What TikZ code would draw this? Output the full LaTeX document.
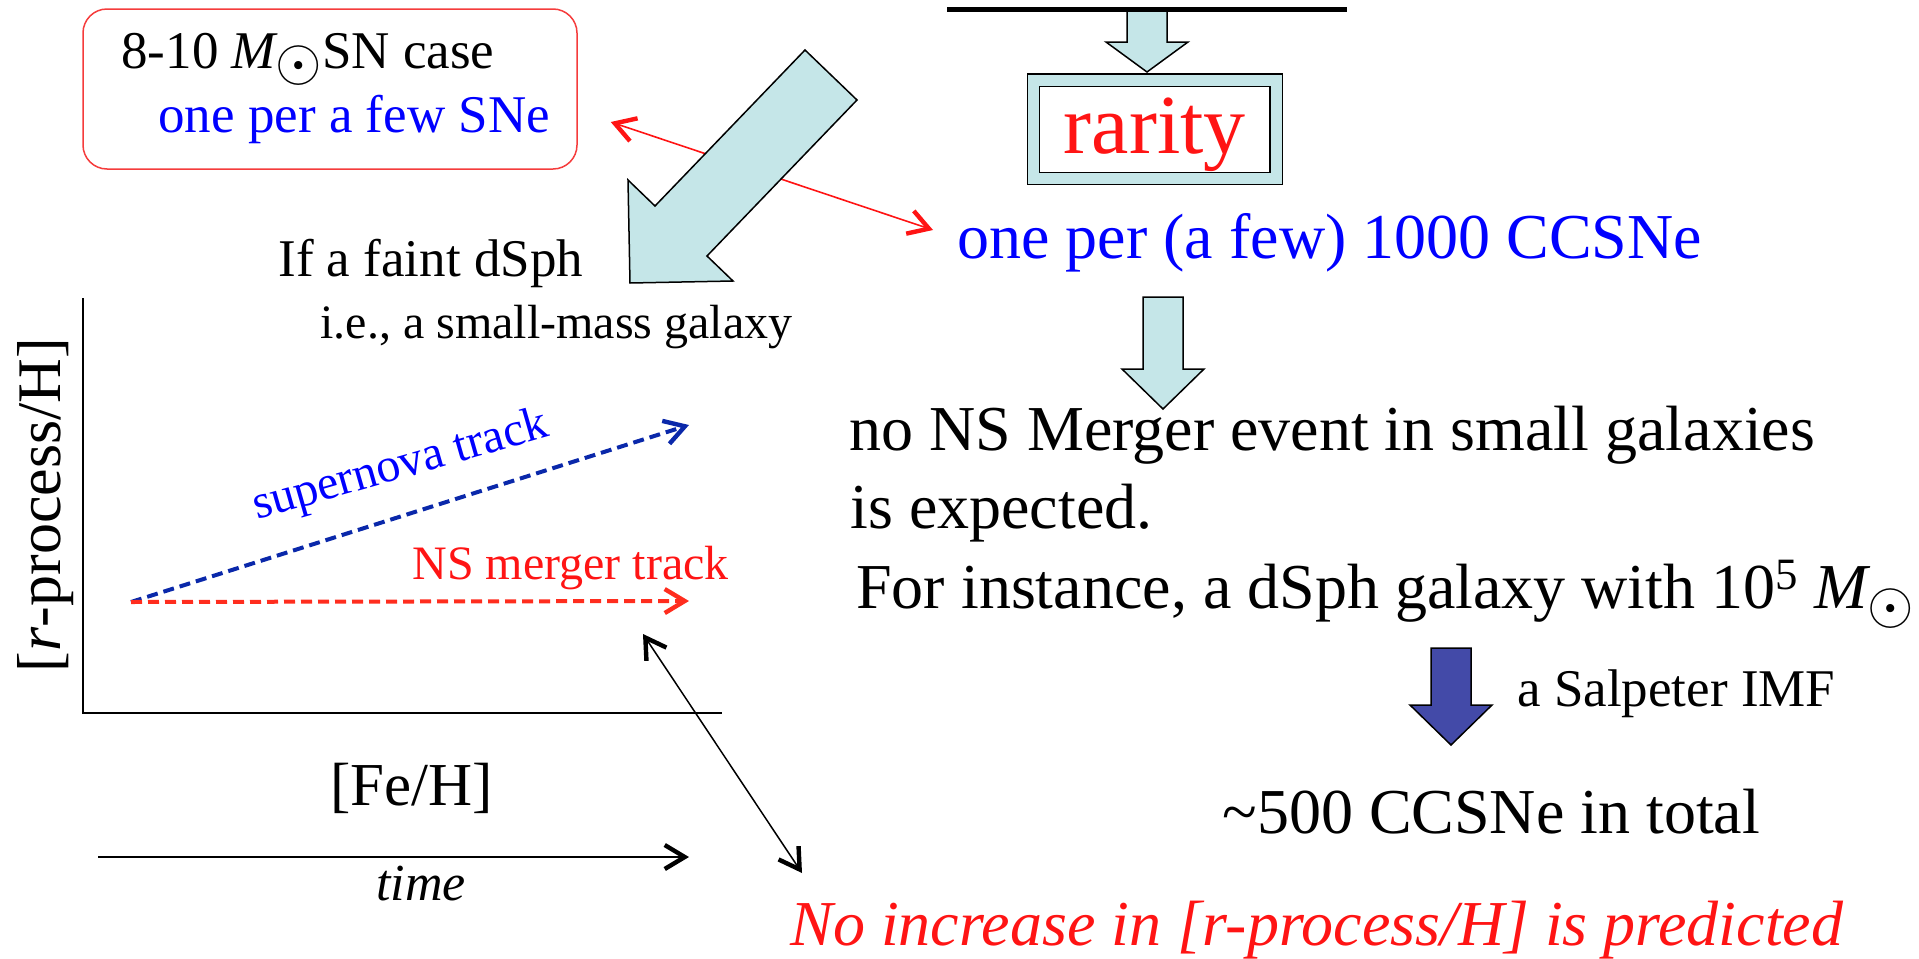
\documentclass[tikz,border=0pt]{standalone}
\usepackage{graphicx}
\usepackage{fontspec}
\setmainfont{Liberation Serif}
\usetikzlibrary{arrows.meta}
\usetikzlibrary{positioning}
\definecolor{cyanfill}{RGB}{197,230,232}
\definecolor{imfblue}{RGB}{67,74,168}
\definecolor{textblue}{RGB}{0,0,255}
\definecolor{trackblue}{RGB}{10,40,170}
\definecolor{textred}{RGB}{255,20,20}
\definecolor{trackred}{RGB}{255,45,30}
\definecolor{boxred}{RGB}{245,60,60}
\newcommand{\Msun}{\textit{M}\hspace{-0.05em}\raisebox{-0.24em}{\scalebox{1.2}{$\odot$}}}
\tikzstyle{bigtext}=[font=\fontsize{32}{38}\selectfont,inner sep=0pt,anchor=base west]
\tikzstyle{midtext}=[font=\fontsize{26.5}{32}\selectfont,inner sep=0pt,anchor=base west]
\tikzstyle{smalltext}=[font=\fontsize{24}{29}\selectfont,inner sep=0pt,anchor=base west]
\tikzstyle{track} = [draw,line width=2pt,dash pattern=on 5.5pt off 3pt,->]
\tikzstyle{pointer} = [draw,line width=0.75pt,<->]
\tikzstyle{blockarrow} = [draw=black,line width=0.75pt,line join=miter]

\begin{document}
\begin{tikzpicture}[x=0.5pt,y=-0.5pt,>={Straight Barb[line width=2.2pt,length=10pt,width=12pt]}]
\useasboundingbox (0,0) rectangle (1919,959);

    % The 8-10 Msun case box
    \node[draw=boxred,line width=0.75pt,rounded corners=12pt,minimum width=247pt,minimum height=80pt] (case) at (330,89) {};
    \node[midtext] (casename) at (121,68) {8-10 \Msun SN case};
    \node[midtext,text=textblue] (caserate) at (158,132) {one per a few SNe};

    % Texts on the right
    \foreach \pos/\name/\txt in {{(957,258)/rate/{\color{textblue}one per (a few) 1000 CCSNe}}, {(849,450)/nomerger/{no NS Merger event in small galaxies}}, {(850,528)/expected/{is expected.}}, {(856,608)/instance/{For instance, a dSph galaxy with 10\textsuperscript{5} \Msun}}, {(1222,833)/total/{\textasciitilde500 CCSNe in total}}}
        \node[bigtext] (\name) at \pos {\txt};
    \node[midtext] (imf) at (1517,706) {a Salpeter IMF};
    \node[bigtext,text=textred,font=\fontsize{32}{38}\selectfont\itshape] (predict) at (790,945) {No increase in [r-process/H] is predicted};

    % Red arrow between the two rates, behind the big arrow
    \draw[pointer,textred,line width=0.8pt] ([shift={(33,33)}]case.east) -- ([shift={(-24,-28)}]rate.base west);

    % Big arrow down to the dSph
    \draw[blockarrow,fill=cyanfill] (805,50) -- (857,100) -- (707,256) -- (733,281) -- (630,283) -- (628,180) -- (655,206) -- cycle;
    \node[midtext] (faint) at (278,276) {If a faint dSph};
    \node[smalltext] (smallmass) at (320,338) {i.e., a small-mass galaxy};

    % Rarity box and the down arrows
    \foreach \cx/\ytop/\ybase/\ytip/\fillc in {1147/10/42/72/cyanfill, 1163/297/369/409/cyanfill, 1451/648/705/745/imfblue}
        \draw[blockarrow,fill=\fillc] (\cx-20,\ytop) -- (\cx+20,\ytop) -- (\cx+20,\ybase) -- (\cx+41,\ybase) -- (\cx,\ytip) -- (\cx-41,\ybase) -- (\cx-20,\ybase) -- cycle;
    \draw[line width=2.5pt] (947,9) -- (1347,9);
    \node[draw=black,line width=0.6pt,double=cyanfill,double distance=5.5pt,fill=white,minimum width=121.25pt,minimum height=49.25pt,inner sep=0pt,text=textred,font=\fontsize{42}{50}\selectfont,text height=23.75pt,text depth=0pt] (rarity) at (1154.75,129.25) {rarity};

    % Axes of the plot
    \coordinate (ytop) at (83,298);
    \coordinate (origin) at (83,713);
    \coordinate (xend) at (722,713);
    \draw[line width=1pt] (ytop) -- (origin) -- (xend);
    \node[rotate=90,anchor=base,inner sep=0pt,font=\fontsize{31}{37}\selectfont] (ylabel) at (61,505) {[\textit{r}-process/H]};
    \node[bigtext,font=\fontsize{30.5}{37}\selectfont] (feh) at (330,805) {[Fe/H]};

    % Tracks
    \coordinate (t0) at (131,602);
    \coordinate (snend) at (689,425);
    \coordinate (nsend) at (689,601);
    \draw[track,trackblue] (t0) -- (snend);
    \draw[track,trackred] (t0) -- (nsend);
    \node[smalltext,text=textblue,rotate=16] (sntrack) at (257,520) {supernova track};
    \node[smalltext,text=textred] (nstrack) at (412,579) {NS merger track};

    % Time axis
    \coordinate (tstart) at (98,857);
    \coordinate (tend) at (689,857);
    \draw[->,line width=1pt] (tstart) -- (tend);
    \node[bigtext,font=\fontsize{26}{31}\selectfont\itshape] (time) at (376,900) {time};

    % Pointer from the NS merger track to the prediction
    \draw[pointer] ([shift={(-46,33)}]nsend) -- ([shift={(12,-72)}]predict.base west);

\end{tikzpicture}
\end{document}
